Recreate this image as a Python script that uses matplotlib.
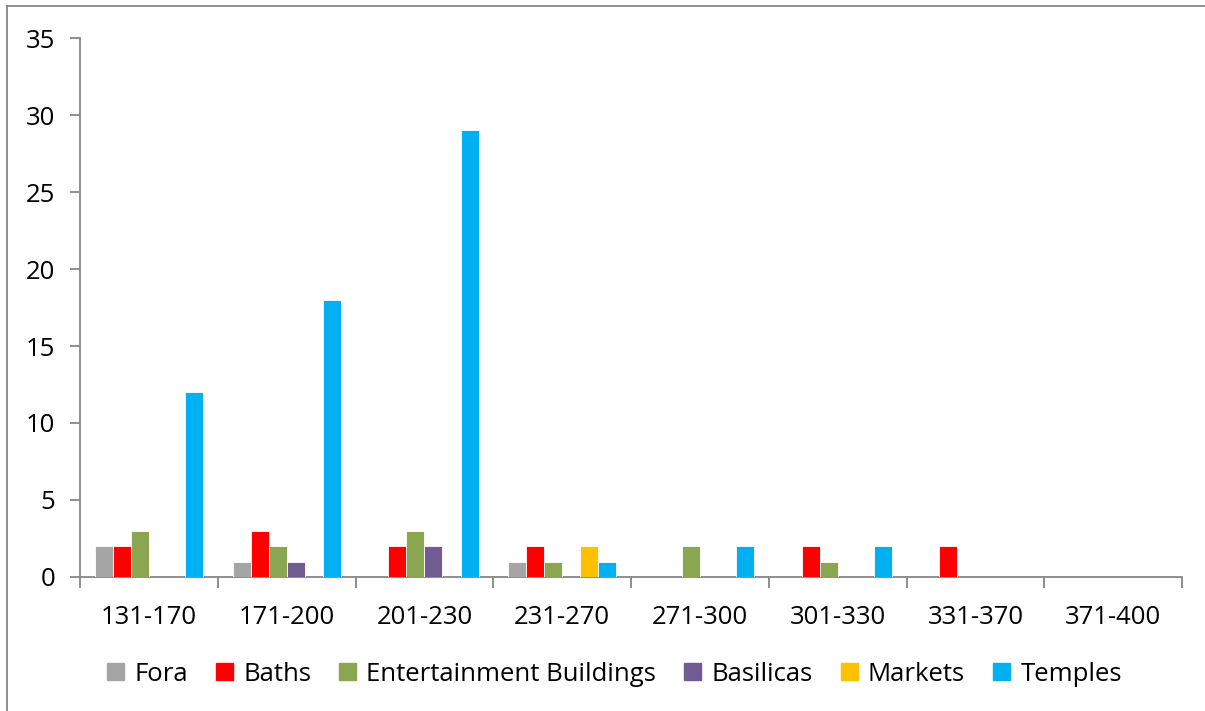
import matplotlib; matplotlib.use('agg')
import matplotlib.pyplot as plt
from matplotlib.lines import Line2D
import numpy as np

plt.rc('font', family=['Open Sans', 'DejaVu Sans'])

periods = ['131-170', '171-200', '201-230', '231-270', '271-300', '301-330', '331-370', '371-400']
series = ['Fora', 'Baths', 'Entertainment Buildings', 'Basilicas', 'Markets', 'Temples']
fora = [2, 1, 0, 1, 0, 0, 0, 0]
baths = [2, 3, 2, 2, 0, 2, 2, 0]
entertainment = [3, 2, 3, 1, 2, 1, 0, 0]
basilicas = [0, 1, 2, 0, 0, 0, 0, 0]
markets = [0, 0, 0, 2, 0, 0, 0, 0]
temples = [12, 18, 29, 1, 2, 2, 0, 0]
colors = ['#A5A5A5', '#FF0000', '#8BA650', '#725A93', '#FFC000', '#00B0F0']

values = [fora, baths, entertainment, basilicas, markets, temples]

fig = plt.figure(figsize=(12.05, 7.11), dpi=100)
ax = fig.add_axes([0.0664, 0.1885, 0.9146, 0.758])

x = np.arange(len(periods))
w = 0.131
for i, (name, vals, c) in enumerate(zip(series, values, colors)):
    off = (i - 2.5) * w
    ax.bar(x + off, vals, width=w, color=c, edgecolor='white', linewidth=0.6, label=name, zorder=3)

ax.set_xlim(-0.5, len(periods) - 0.5)
ax.set_ylim(0, 35)
ax.set_yticks(range(0, 36, 5))
ax.set_xticks(x)
ax.set_xticklabels(periods)
ax.set_xticks(np.arange(len(periods) + 1) - 0.5, minor=True)
ax.tick_params(axis='x', which='major', length=0, pad=20, labelsize=18.5)
ax.tick_params(axis='x', which='minor', length=8, width=1.3, color='#868686', direction='out')
ax.tick_params(axis='y', length=7, width=1.3, color='#868686', pad=11, labelsize=18.5)

for s in ['top', 'right']:
    ax.spines[s].set_visible(False)
for s in ['left', 'bottom']:
    ax.spines[s].set_color('#868686')
    ax.spines[s].set_linewidth(1.3)

handles = [plt.Rectangle((0, 0), 1, 1, color=c) for c in colors]
fig.legend(handles, series, loc='center', bbox_to_anchor=(0.51, 0.052), ncol=6, frameon=False,
           fontsize=18.5, handlelength=0.65, handleheight=0.65, handletextpad=0.4, columnspacing=1.1)

# figure border (top and left only visible)
fig.add_artist(Line2D([0.006, 0.006], [0, 0.991], transform=fig.transFigure, color='#868686', lw=1.3))
fig.add_artist(Line2D([0.006, 1], [0.991, 0.991], transform=fig.transFigure, color='#868686', lw=1.3))

fig.savefig('out.png', dpi=100)
